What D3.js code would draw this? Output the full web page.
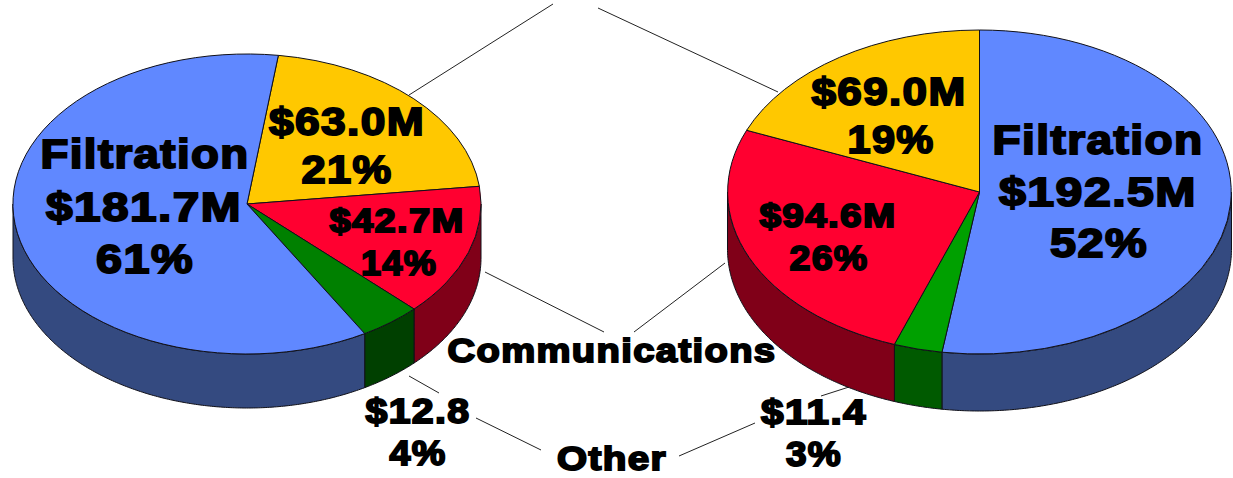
<!DOCTYPE html>
<html><head><meta charset="utf-8">
<script src="https://cdn.jsdelivr.net/npm/d3@7/dist/d3.min.js"></script>
<style>html,body{margin:0;padding:0;background:#fff}svg{display:block}text{font-family:"Liberation Sans",Arial,sans-serif;font-weight:700;fill:#000;stroke:#000;stroke-width:1.9px;paint-order:stroke;text-anchor:middle;letter-spacing:1.2px}</style>
</head><body><svg id="c" width="1233" height="478"></svg>
<script>
const categories = ["Connectors","Communications","Other","Filtration"];
const leftValues = [63.0,42.7,12.8,181.7];
const rightOrder = ["Filtration","Other","Communications","Connectors"];
const rightValues = [192.5,11.4,94.6,69.0];
const topColors = {Connectors:"#ffc800",Communications:"#ff0030",Filtration:"#6088ff"};
const sideColors = {Connectors:"#806400",Communications:"#800018",Filtration:"#344a80"};
const leftOtherTop="#008000", rightOtherTop="#00a000", leftOtherSide="#004000", rightOtherSide="#005a00";

const pies = [
 {cats:categories, vals:leftValues, cx:247, cy:204, rx:234, ry:150, depth:54, start:7.7, otherTop:leftOtherTop, otherSide:leftOtherSide},
 {cats:rightOrder, vals:rightValues, cx:979.5, cy:192, rx:252, ry:162, depth:57, start:0, otherTop:rightOtherTop, otherSide:rightOtherSide}
];
// text, centre x, baseline y, font size, drawn width
const labels = [
 ["Filtration",145,168,40,209],["$181.7M",144,221,40,196],["61%",145,273,40,98],
 ["$63.0M",347,135,39,156],["21%",347,183,39,91],
 ["$42.7M",397,232,34,135],["14%",399,275,35,76],
 ["$12.8",418,423,35,105],["4%",418,465,35,57],
 ["Communications",612,362,34,329],["Other",612,470,34,110],
 ["$11.4",814,424,35,106],["3%",814,466,35,56],
 ["$69.0M",889,105,39,155],["19%",891,153,39,87],
 ["Filtration",1098,154,40,211],["$192.5M",1098,206,40,198],["52%",1099,257,40,98],
 ["$94.6M",828,227,34,137],["26%",829,270,35,79]
];
const leaders = [
 [409,95,553,4],[598,8,778,92],[485,272,604,332],[725,263,634,332],
 [409,376,439,393],[476,418,541,450],[679,456,755,423],[821,396,849,387]
];
const svg = d3.select("#c");
const rad = Math.PI/180;
svg.append("g").selectAll("line").data(leaders).join("line")
 .attr("x1",d=>d[0]).attr("y1",d=>d[1]).attr("x2",d=>d[2]).attr("y2",d=>d[3])
 .attr("stroke","#222").attr("stroke-width",1);

pies.forEach(p=>{
 const g = svg.append("g");
 const pie = d3.pie().sort(null).startAngle(p.start*rad).endAngle((p.start+360)*rad);
 const arcs = pie(p.vals).map((a,i)=>({...a,cat:p.cats[i]}));
 const X = a=>p.cx+p.rx*Math.sin(a), Y=a=>p.cy-p.ry*Math.cos(a);
 const col=(c,side)=>c==="Other"?(side?p.otherSide:p.otherTop):(side?sideColors:topColors)[c];
 arcs.forEach(a=>{
  [0,2*Math.PI].forEach(off=>{
   const s=Math.max(a.startAngle-off,Math.PI/2), e=Math.min(a.endAngle-off,1.5*Math.PI);
   if(e<=s) return;
   const n=Math.max(2,Math.ceil((e-s)/0.01));
   const ts=d3.range(n+1).map(i=>s+(e-s)*i/n);
   const pts=ts.map(t=>[X(t),Y(t)]).concat(ts.slice().reverse().map(t=>[X(t),Y(t)+p.depth]));
   g.append("path").attr("d",d3.line()(pts)+"Z").attr("fill",col(a.cat,true))
    .attr("stroke","#101018").attr("stroke-width",1).attr("stroke-linejoin","round");
  });
 });
 const arc=d3.arc().innerRadius(0).outerRadius(1);
 g.selectAll("path.top").data(arcs).join("path").attr("class","top")
  .attr("d",arc).attr("transform",`translate(${p.cx},${p.cy}) scale(${p.rx},${p.ry})`)
  .attr("fill",d=>col(d.cat,false)).attr("stroke","#101018").attr("stroke-width",1)
  .attr("vector-effect","non-scaling-stroke").attr("stroke-linejoin","round");
});
svg.append("g").selectAll("text").data(labels).join("text")
 .attr("font-size",d=>d[3]).text(d=>d[0])
 .attr("transform",function(d){
   const sx=d[4]/this.getComputedTextLength();
   return `translate(${d[1]},${d[2]}) scale(${sx},1)`;
 });
</script></body></html>
